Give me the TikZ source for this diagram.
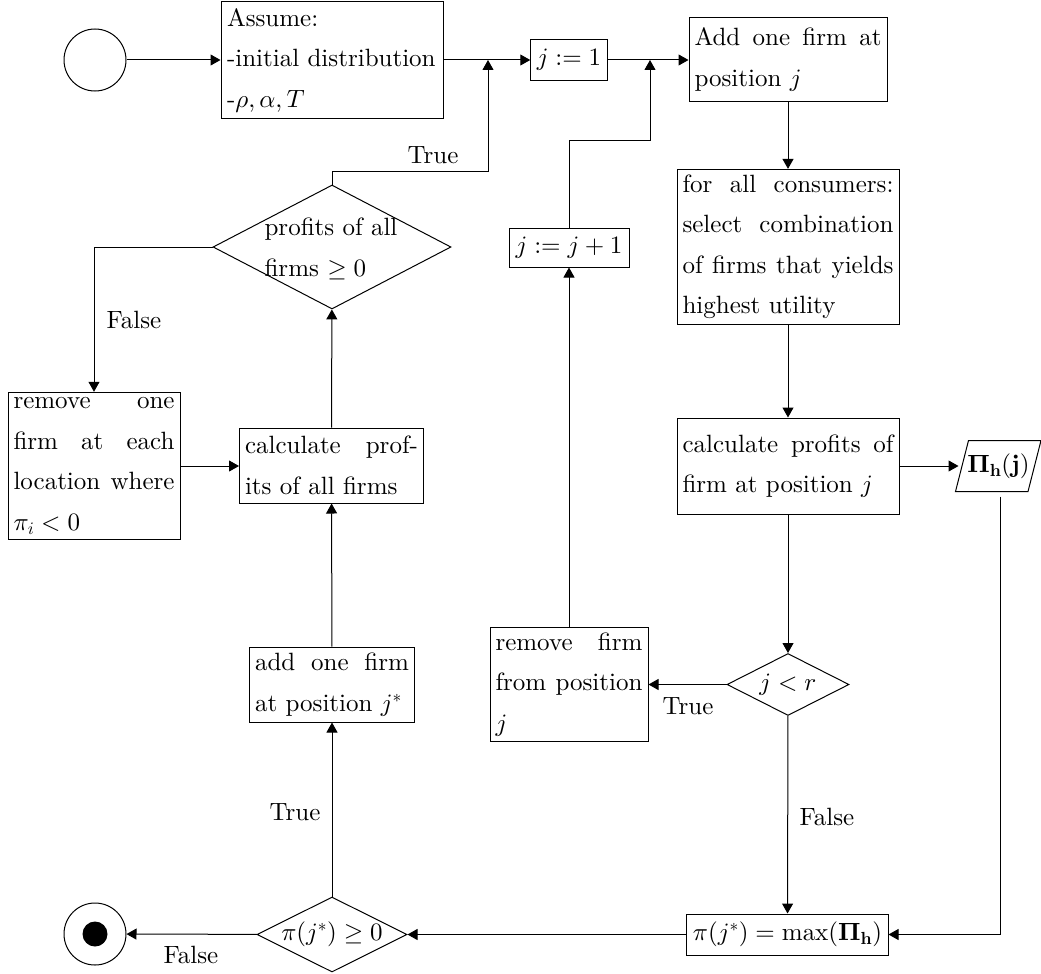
\RequirePackage{fix-cm}
\documentclass[tikz,border=0pt]{standalone}
\usepackage[no-math]{fontspec}
\setmainfont{lmroman10-regular.otf}[BoldFont=lmroman10-bold.otf,ItalicFont=lmroman10-italic.otf]
\DeclareFontFamily{OT1}{cmr}{\hyphenchar\font45 }
\DeclareFontShape{OT1}{cmr}{m}{n}{<->cmr10}{}
\DeclareFontShape{OT1}{cmr}{bx}{n}{<->cmbx10}{}
\DeclareFontFamily{OML}{cmm}{\skewchar\font127 }
\DeclareFontShape{OML}{cmm}{m}{it}{<->cmmi10}{}
\DeclareFontShape{OML}{cmm}{b}{it}{<->cmmib10}{}
\DeclareFontFamily{OMS}{cmsy}{\skewchar\font48 }
\DeclareFontShape{OMS}{cmsy}{m}{n}{<->cmsy10}{}
\usetikzlibrary{shapes.geometric,arrows.meta,calc}
\begin{document}
\begin{tikzpicture}[x=1pt,y=-1pt,line width=1pt,
  every node/.style={font=\fontsize{25}{40.5}\selectfont},
  box/.style={draw,rectangle,inner sep=6pt},
  jbox/.style={box,align=justify,inner sep=5.5pt},
  arr/.style={-{Triangle[length=10pt,width=11pt]}},
  lbl/.style={inner sep=0pt,anchor=base},
  dia/.style={draw,diamond,inner sep=0pt},
]
\useasboundingbox (0,0) rectangle (1041,974);
% nodes
\node[draw,circle,minimum size=62pt,inner sep=0pt] (start) at (95,60) {};
\node[box,text width=210pt,align=left,minimum height=116pt] (assume) at (332,60) {Assume:\\-initial distribution\\-$\rho,\alpha,T$};
\node[box,minimum height=40pt] (j1) at (569,60) {$j:=1$};
\node[jbox,text width=187pt,minimum height=83pt] (add) at (788,59.5) {Add one firm at\linebreak position $j$};
\node[jbox,text width=211pt] (forall) at (788,247) {for all consumers:\linebreak select combination\linebreak of firms that yields\linebreak highest utility};
\node[jbox,text width=211pt,minimum height=96pt] (calcfirm) at (788,466) {calculate profits of\linebreak firm at position $j$};
\node[minimum width=85pt,minimum height=50pt,inner sep=0pt] (Pi) at (998.5,466) {$\mathbf{\Pi_h(j)}$};
\draw ($(Pi.north west)+(13,0)$) -- ($(Pi.north east)+(-0.5,0)$) -- ($(Pi.south east)+(-13.5,0)$) -- (Pi.south west) -- cycle;
\node[box,minimum height=39pt,minimum width=120pt] (jj1) at (569,247.5) {$j:=j+1$};
\node[jbox,text width=147pt] (removefirm) at (569,684.5) {remove firm\linebreak from position\linebreak $j$};
\node[dia,minimum width=122pt,minimum height=62pt] (jr) at (788,684.5) {};
\node[inner sep=0pt] (jrtext) at (jr) {$j<r$};
\node[box,minimum height=41pt] (pimax) at (787.5,934.5) {$\pi(j^*)=\max(\mathbf{\Pi_h})$};
\node[dia,minimum width=150pt,minimum height=75pt] (pige) at (332,934.5) {};
\node[inner sep=0pt] (pigetext) at (pige) {$\pi(j^*)\geq 0$};
\node[draw,circle,minimum size=62pt,inner sep=0pt] (stop) at (95,934) {};
\node[circle,fill,minimum size=25pt,inner sep=0pt] (stopdot) at (stop) {};
\node[jbox,text width=154pt,minimum height=75pt] (addstar) at (332,684.5) {add one firm\linebreak at position $j^*$};
\node[jbox,text width=173pt,minimum height=75pt] (calcall) at (331.5,465.5) {calculate prof-\linebreak its of all firms};
\node[jbox,text width=161pt] (removeone) at (94,466) {remove one\linebreak firm at each\linebreak location where\linebreak $\pi_i<0$};
\node[dia,minimum width=238pt,minimum height=124pt] (prof) at (332,247) {};
\node[align=left,inner sep=0pt] (proftext) at (331,249) {profits of all\\firms $\geq 0$};
% labels
\node[lbl] (tTop) at (433,163) {True};
\node[lbl] (fLeft) at (134,328) {False};
\node[lbl] (tMid) at (688,714) {True};
\node[lbl] (fMid) at (827,825) {False};
\node[lbl] (tLow) at (295,820) {True};
\node[lbl] (fLow) at (191,963) {False};
% connectors
\coordinate (m1) at (488,60);
\coordinate (m2) at (650,60);
\draw[arr] (start) -- (assume);
\draw[arr] (assume) -- (j1);
\draw[arr] (j1.east) -- (j1.east -| add.west);
\draw[arr] (prof.north) -- ++(0,-13) -| (m1);
\draw[arr] (jj1.north) -- ++(0,-87) -| (m2);
\draw[arr] (add) -- (forall);
\draw[arr] (forall) -- (calcfirm);
\draw[arr] (calcfirm.east) -- ($(Pi.west)+(3,0)$);
\draw[arr] (calcfirm) -- (jr);
\draw[arr] (jr) -- (removefirm);
\draw[arr] (removefirm) -- (jj1);
\draw[arr] (jr) -- (pimax);
\draw[arr] ($(Pi.south)+(1.5,5)$) |- (pimax.east);
\draw[arr] (pimax) -- (pige);
\draw[arr] (pige) -- (stop);
\draw[arr] (pige) -- (addstar);
\draw[arr] (addstar) -- (calcall);
\draw[arr] (calcall) -- (prof);
\draw[arr] (prof.west) -| (removeone.north);
\draw[arr] (removeone.east) -- (removeone.east -| calcall.west);
\end{tikzpicture}
\end{document}
